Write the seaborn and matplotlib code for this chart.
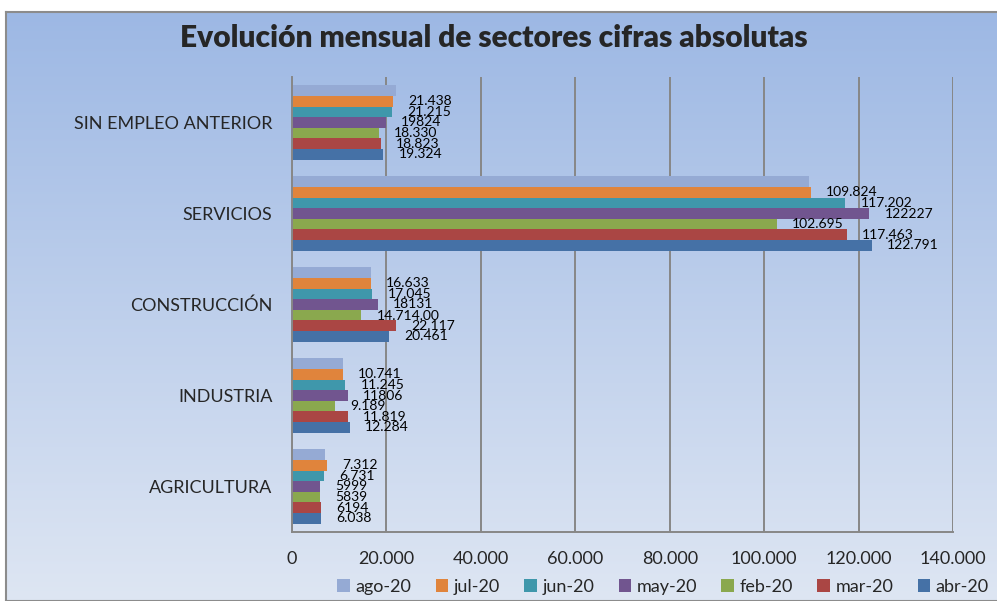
import numpy as np
import pandas as pd
import matplotlib.pyplot as plt
import seaborn as sns
from matplotlib.ticker import FuncFormatter

sns.set_style("white")
plt.rcParams['font.family'] = ['Lato', 'DejaVu Sans']

# ==================== datos ====================
sectores = ['SIN EMPLEO ANTERIOR', 'SERVICIOS', 'CONSTRUCCIÓN', 'INDUSTRIA', 'AGRICULTURA']
meses = ['ago-20', 'jul-20', 'jun-20', 'may-20', 'feb-20', 'mar-20', 'abr-20']

ago = [22100, 109500, 16800, 10700, 6900]
jul = [21438, 109824, 16633, 10741, 7312]
jun = [21215, 117202, 17045, 11245, 6731]
may = [19824, 122227, 18131, 11806, 5999]
feb = [18330, 102695, 14714, 9189, 5839]
mar = [18823, 117463, 22117, 11819, 6194]
abr = [19324, 122791, 20461, 12284, 6038]

# etiquetas tal como aparecen en el gráfico (ago-20 sin etiqueta)
etq_ago = ['', '', '', '', '']
etq_jul = ['21.438', '109.824', '16.633', '10.741', '7.312']
etq_jun = ['21.215', '117.202', '17.045', '11.245', '6.731']
etq_may = ['19824', '122227', '18131', '11806', '5999']
etq_feb = ['18.330', '102.695', '14.714,00', '9.189', '5839']
etq_mar = ['18.823', '117.463', '22.117', '11.819', '6194']
etq_abr = ['19.324', '122.791', '20.461', '12.284', '6.038']

colores = ['#95aad4', '#e0843c', '#3f97ab', '#71558f', '#8aa84e', '#aa4644', '#4571a6']

valores = [ago, jul, jun, may, feb, mar, abr]
etiquetas = [etq_ago, etq_jul, etq_jun, etq_may, etq_feb, etq_mar, etq_abr]

df = pd.DataFrame({
    'sector': sectores * len(meses),
    'mes': np.repeat(meses, len(sectores)),
    'valor': np.concatenate(valores),
})

# ==================== figura ====================
fig = plt.figure(figsize=(9.97, 6.01), dpi=100)

# fondo degradado con borde
bg = fig.add_axes([6 / 997, 0, 1, 589 / 601])
grad = np.linspace(0, 1, 256).reshape(-1, 1)
top = np.array([0x9d, 0xb8, 0xe4]) / 255
bot = np.array([0xde, 0xe6, 0xf3]) / 255
img = top + (bot - top) * grad[:, :, None]
bg.imshow(img, aspect='auto', extent=[0, 1, 0, 1])
bg.set_xticks([])
bg.set_yticks([])
for s in bg.spines.values():
    s.set_color('#8c8c8c')
    s.set_linewidth(1.5)
bg.set_zorder(-1)

ax = fig.add_axes([292 / 997, 69 / 601, 661 / 997, 455 / 601])
ax.patch.set_alpha(0)

sns.barplot(data=df, y='sector', x='valor', hue='mes', order=sectores,
            hue_order=meses, palette=colores, saturation=1, width=0.82,
            orient='h', ax=ax, legend=True, linewidth=0)

for cont, etq in zip(ax.containers, etiquetas):
    ax.bar_label(cont, labels=etq, padding=11, fontsize=10, color='black')

ax.set_xlim(0, 140000)
ax.set_xticks(np.arange(0, 140001, 20000))
ax.xaxis.set_major_formatter(FuncFormatter(lambda v, p: f'{v:,.0f}'.replace(',', '.')))
ax.grid(axis='x', color='#878787', linewidth=1.4)
ax.set_axisbelow(True)
ax.set_xlabel('')
ax.set_ylabel('')
ax.tick_params(axis='x', labelsize=13, length=0, pad=14)
ax.tick_params(axis='y', labelsize=13, length=0, pad=14)
for lado in ['top', 'right']:
    ax.spines[lado].set_visible(False)
for lado in ['left', 'bottom']:
    ax.spines[lado].set_color('#878787')
    ax.spines[lado].set_linewidth(1.4)

handles, labels = ax.get_legend_handles_labels()
ax.get_legend().remove()
fig.legend(handles, labels, loc='center', bbox_to_anchor=(663 / 997, 1 - 587 / 601),
           ncol=7, frameon=False, fontsize=13, handlelength=0.7, handleheight=0.7,
           handletextpad=0.3, columnspacing=1.35)

fig.text(494 / 997, 1 - 38 / 601, 'Evolución mensual de sectores cifras absolutas',
         ha='center', va='center', fontsize=21.5, fontweight='heavy')

fig.savefig('out.png', dpi=100)
